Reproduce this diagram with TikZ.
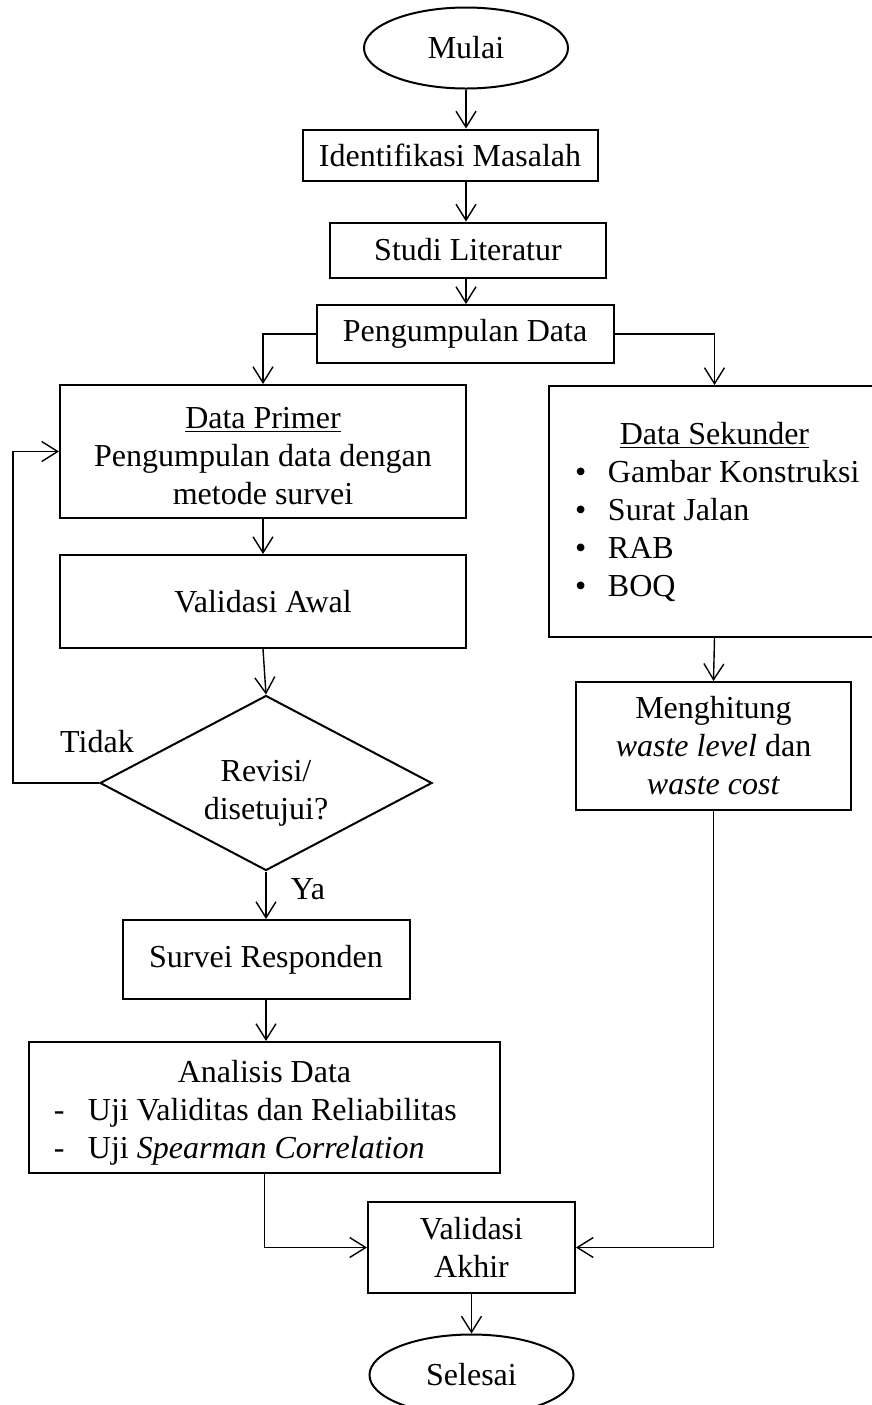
\documentclass[tikz,border=0pt]{standalone}
\usepackage{fontspec}
\setmainfont{Liberation Serif}
\usetikzlibrary{positioning,shapes.geometric,arrows.meta}

\begin{document}
\begin{tikzpicture}[x=0.5pt,y=-0.5pt,font=\fontsize{16}{19}\selectfont,
  box/.style={draw,line width=1pt,inner sep=0pt,align=center},
  term/.style={box,ellipse,minimum width=102pt,minimum height=40.5pt},
  arr/.style={line width=0.7pt,-{Straight Barb[length=8pt,width=10pt]}}]
\useasboundingbox (0,0) rectangle (872,1405);
\node[term] (mulai) at (466,48) {Mulai};
\node[box,minimum width=147.5pt,minimum height=25.5pt] (idm) at (450,155) {Identifikasi Masalah};
\node[box,minimum width=138pt,minimum height=27.5pt] (studi) at (468,250) {Studi Literatur};
\node[box,minimum width=148.5pt,minimum height=29pt] (kumpul) at (465,334) {Pengumpulan Data};
\node[box,minimum width=203pt,minimum height=66.5pt] (primer) at (263,451.5) {\rule{0pt}{15pt}\underline{Data Primer}\\Pengumpulan data dengan\\metode survei};
\node[box,minimum width=203pt,minimum height=46.5pt] (awal) at (263,601.5) {Validasi Awal};
\node[box,diamond,aspect=2,minimum width=166pt,minimum height=87.5pt] (revisi) at (266,783) {\rule{0pt}{21pt}Revisi/\\disetujui?};
\node (tidak) at (97,742) {Tidak};
\node (ya) at (308,889) {Ya};
\node[box,minimum width=143.5pt,minimum height=39.5pt] (survei) at (266,959.5) {Survei Responden};
\node[box,minimum width=235.5pt,minimum height=65.5pt,align=left] (analisis) at (264.5,1107.5) {\makebox[235.5pt]{\rule{0pt}{16pt}Analisis Data}\\
  \hspace*{12.5pt}\makebox[17pt][l]{-}Uji Validitas dan Reliabilitas\\
  \hspace*{12.5pt}\makebox[17pt][l]{-}Uji \textit{Spearman Correlation}};
\node[box,minimum width=165.5pt,minimum height=125.5pt,align=left] (sekunder) at (714.5,511.5) {\makebox[165.5pt]{\underline{Data Sekunder}}\\
  \hspace*{13pt}\makebox[16.5pt][l]{\textbullet}Gambar Konstruksi\\
  \hspace*{13pt}\makebox[16.5pt][l]{\textbullet}Surat Jalan\\
  \hspace*{13pt}\makebox[16.5pt][l]{\textbullet}RAB\\
  \hspace*{13pt}\makebox[16.5pt][l]{\textbullet}BOQ};
\node[box,minimum width=137.5pt,minimum height=64pt] (hitung) at (713.5,746) {Menghitung\\\textit{waste level} dan\\\textit{waste cost}};
\node[box,minimum width=103.5pt,minimum height=45.5pt] (akhir) at (471.5,1247.5) {Validasi\\Akhir};
\node[term] (selesai) at (471.5,1375) {Selesai};
\coordinate (lp) at (13,783);
\draw[arr] (mulai) -- (mulai |- idm.north);
\draw[arr] (idm.south -| mulai) -- (studi.north -| mulai);
\draw[arr] (studi.south -| mulai) -- (kumpul.north -| mulai);
\draw[arr] (kumpul.west) -| (primer.north);
\draw[arr] (kumpul.east) -| (sekunder.north);
\draw[arr] (primer) -- (awal);
\draw[arr] (awal.south) -- (revisi.north);
\draw[arr] (revisi.west) -- (lp) |- (primer.west);
\draw[arr] (revisi) -- (survei);
\draw[arr] (survei.south) -- (survei.south |- analisis.north);
\draw[arr] (analisis.south) |- (akhir.west);
\draw[arr] (hitung.south) |- (akhir.east);
\draw[arr] (sekunder.south) -- (hitung.north);
\draw[arr] (akhir) -- (selesai);
\end{tikzpicture}
\end{document}
